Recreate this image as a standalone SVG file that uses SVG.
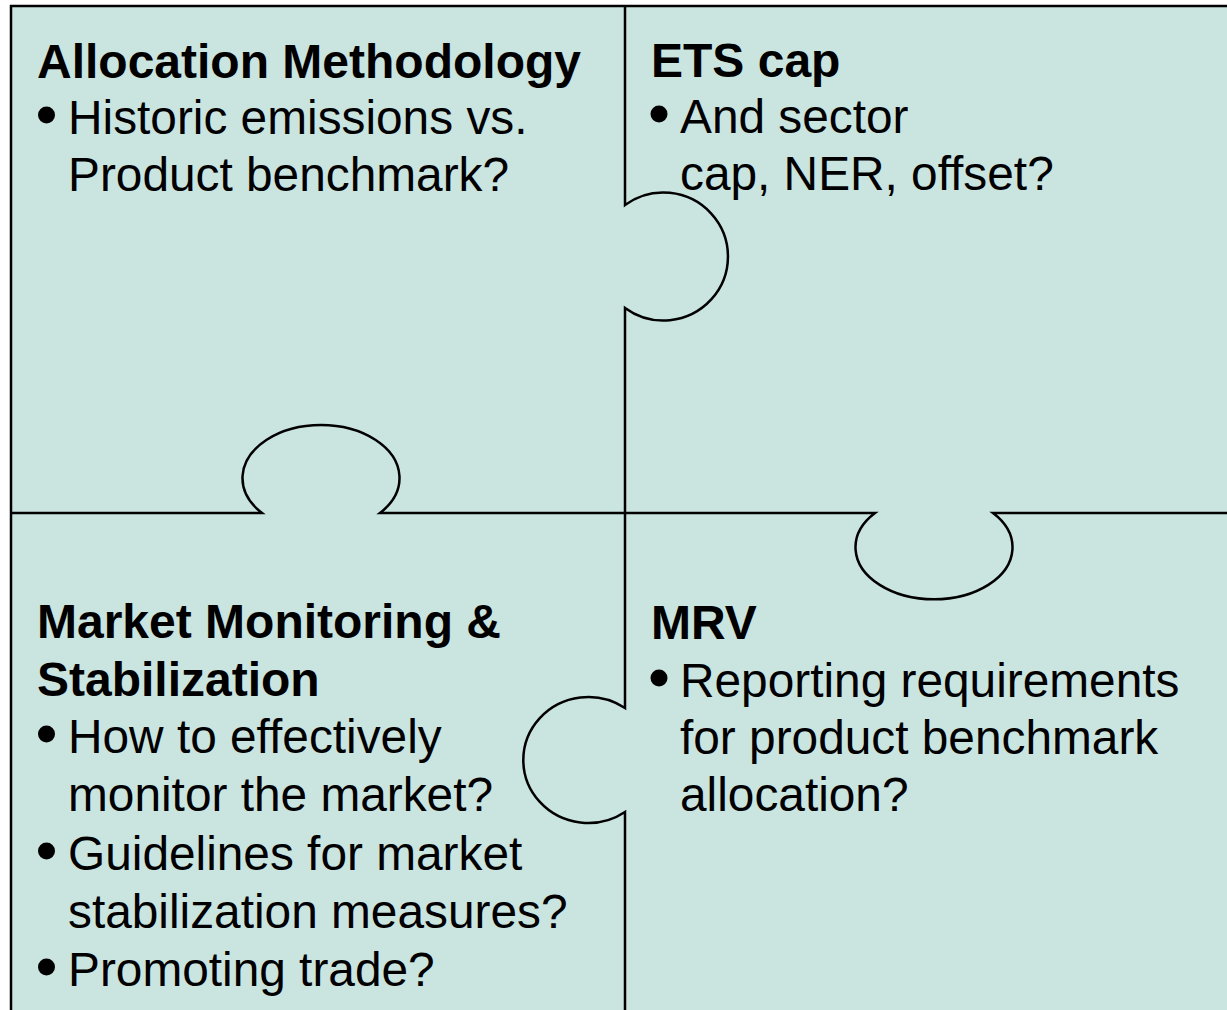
<svg xmlns="http://www.w3.org/2000/svg" width="1227" height="1010" viewBox="0 0 1227 1010">
<style>
.bg{fill:#CAE4E0;stroke:#000;stroke-width:2.5}
.edge{fill:none;stroke:#000;stroke-width:2.5}
text{font-family:"Liberation Sans",Arial,sans-serif;font-size:47.8px;fill:#000}
.h{font-weight:bold;font-size:48px}
.dot{fill:#000}
</style>
<rect width="1227" height="1010" fill="#fff"/>
<rect class="bg" x="11" y="6" width="1230" height="1020"/>
<g id="connectors">
<path class="edge" d="M625,6 V205 A64.6,64 0 1 1 625,308 V708 A65,63 0 1 0 625,812 V1012"/>
<path class="edge" d="M11,513 H262 A78.5,53 0 1 1 380,513 H875 A78.5,52 0 1 0 993,513 H1229"/>
</g>
<g id="allocation">
<text class="h" x="37" y="78">Allocation Methodology</text>
<circle class="dot" cx="46.5" cy="115" r="8.5"/>
<text x="68" y="134">Historic emissions vs.</text>
<text x="68" y="191">Product benchmark?</text>
</g>
<g id="ets">
<text class="h" x="651" y="77">ETS cap</text>
<circle class="dot" cx="659" cy="114" r="8.5"/>
<text x="680" y="133">And sector</text>
<text x="680" y="190">cap, NER, offset?</text>
</g>
<g id="market">
<text class="h" x="37" y="638">Market Monitoring &amp;</text>
<text class="h" x="37" y="696">Stabilization</text>
<circle class="dot" cx="46.5" cy="734" r="8.5"/>
<text x="68" y="753">How to effectively</text>
<text x="68" y="811">monitor the market?</text>
<circle class="dot" cx="46.5" cy="851" r="8.5"/>
<text x="68" y="870">Guidelines for market</text>
<text x="68" y="928">stabilization measures?</text>
<circle class="dot" cx="46.5" cy="967" r="8.5"/>
<text x="68" y="986">Promoting trade?</text>
</g>
<g id="mrv">
<text class="h" x="651" y="639">MRV</text>
<circle class="dot" cx="659" cy="678" r="8.5"/>
<text x="680" y="697">Reporting requirements</text>
<text x="680" y="754">for product benchmark</text>
<text x="680" y="811">allocation?</text>
</g>
</svg>
